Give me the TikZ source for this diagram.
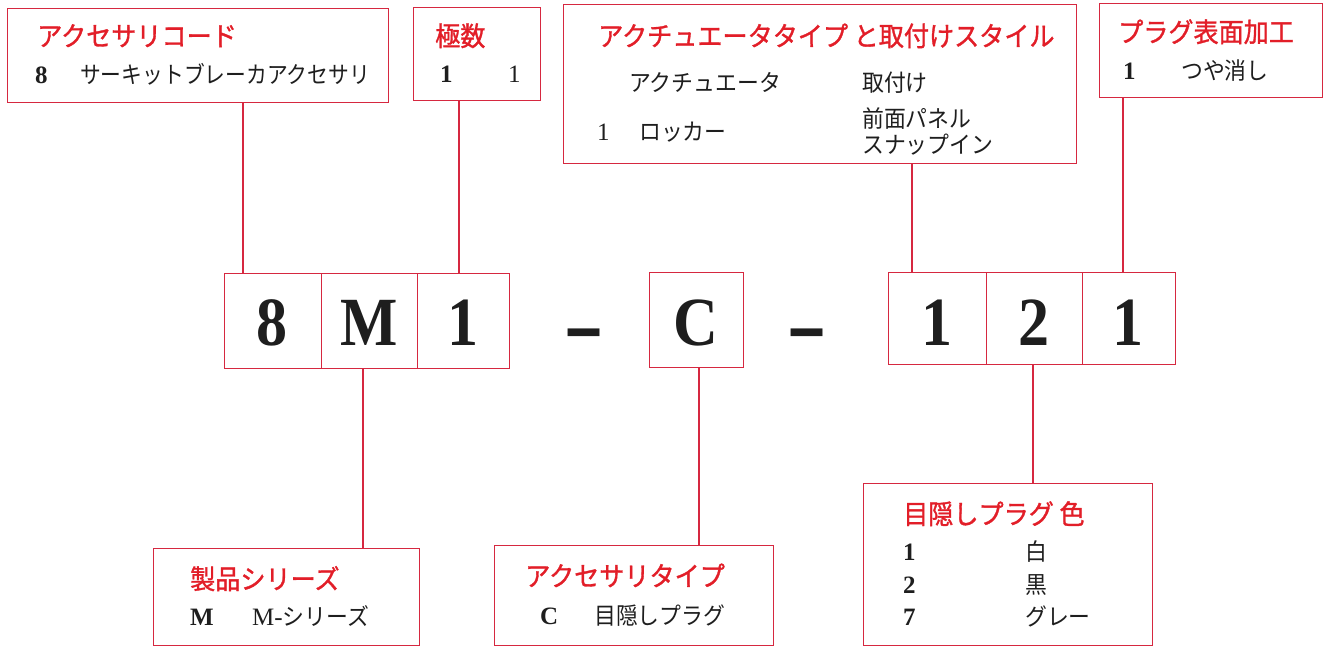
\documentclass[tikz,border=0pt]{standalone}
\usepackage{graphicx}
\usepackage{fontspec}
\setmainfont{Liberation Serif}
\newfontfamily\jp[FakeStretch=0.93]{Noto Sans CJK JP}
\newfontfamily\jpt[FakeStretch=0.93,FakeBold=1.2]{Noto Sans CJK JP}
\definecolor{boxred}{RGB}{214,40,64}
\definecolor{titlered}{RGB}{226,30,40}
\definecolor{ink}{RGB}{30,30,30}
\begin{document}
\begin{tikzpicture}[x=1pt,y=-1pt,
  box/.style={draw=boxred, line width=1.3pt, inner sep=0pt, anchor=north west},
  link/.style={draw=boxred, line width=1.3pt},
  ttl/.style={inner sep=0pt, anchor=base west, text=titlered, font=\fontsize{27}{27}\selectfont\jpt},
  body/.style={inner sep=0pt, anchor=base west, text=ink, font=\fontsize{23.5}{23.5}\selectfont\jp},
  num/.style={inner sep=0pt, anchor=base west, text=ink, font=\fontsize{25}{25}\selectfont\bfseries},
  rnum/.style={inner sep=0pt, anchor=base west, text=ink, font=\fontsize{25}{25}\selectfont},
  code/.style={inner sep=0pt, anchor=base, text=ink, font=\fontsize{69}{69}\selectfont\bfseries},
]
\useasboundingbox (0,0) rectangle (1325,646);

% top boxes
\node[box, minimum width=381pt, minimum height=94pt] (boxA) at (7,8) {};
\node[box, minimum width=127pt, minimum height=93pt] (boxB) at (413,7) {};
\node[box, minimum width=513pt, minimum height=159pt] (boxC) at (563,4) {};
\node[box, minimum width=223pt, minimum height=94pt] (boxD) at (1099,3) {};

% code boxes
\node[box, minimum width=97pt, minimum height=95pt] (c8) at (224,273) {};
\node[box, minimum width=96pt, minimum height=95pt] (cM) at (321,273) {};
\node[box, minimum width=92pt, minimum height=95pt] (c1) at (417,273) {};
\node[box, minimum width=94pt, minimum height=95pt] (cC) at (649,272) {};
\node[box, minimum width=98pt, minimum height=92pt] (r1) at (888,272) {};
\node[box, minimum width=96pt, minimum height=92pt] (r2) at (986,272) {};
\node[box, minimum width=93pt, minimum height=92pt] (r3) at (1082,272) {};

% bottom boxes
\node[box, minimum width=266pt, minimum height=97pt] (boxE) at (153,548) {};
\node[box, minimum width=279pt, minimum height=100pt] (boxF) at (494,545) {};
\node[box, minimum width=289pt, minimum height=162pt] (boxG) at (863,483) {};

% connectors
\coordinate (kA) at (243,273);
\coordinate (kB) at (459,273);
\coordinate (kC) at (912,272);
\coordinate (kD) at (1123,272);
\coordinate (kM) at (363,548);
\coordinate (kF) at (699,545);
\coordinate (kG) at (1033,483);
\draw[link] (kA |- boxA.south) -- (kA);
\draw[link] (kB |- boxB.south) -- (kB);
\draw[link] (kC |- boxC.south) -- (kC);
\draw[link] (kD |- boxD.south) -- (kD);
\draw[link] (kM |- cM.south) -- (kM);
\draw[link] (kF |- cC.south) -- (kF);
\draw[link] (kG |- r2.south) -- (kG);

% code characters
\node[code] (t8) at (272.5,345) {\scalebox{0.9}[1]{8}};
\node[code] (tM) at (369,345) {\scalebox{0.88}[1]{M}};
\node[code] (t1) at (463,345) {\scalebox{0.9}[1]{1}};
\node[code] (dash1) at (584.5,358) {\scalebox{0.9}[1.6]{–}};
\node[code] (tC) at (696,345) {\scalebox{0.9}[1]{C}};
\node[code] (dash2) at (807.5,358) {\scalebox{0.9}[1.6]{–}};
\node[code] (u1) at (937,345) {\scalebox{0.9}[1]{1}};
\node[code] (u2) at (1034,345) {\scalebox{0.9}[1]{2}};
\node[code] (u3) at (1128.5,345) {\scalebox{0.9}[1]{1}};

% box A
\node[ttl] (aT) at (37,46) {アクセサリコード};
\node[num] (aN) at (35,83) {8};
\node[body] (aX) at (80,83) {\scalebox{0.95}[1]{サーキットブレーカアクセサリ}};

% box B
\node[ttl] (bT) at (435,46) {極数};
\node[num] (bN) at (440,82) {1};
\node[rnum] (bX) at (508,82) {1};

% box C
\node[ttl] (cT) at (598,46) {アクチュエータタイプ と取付けスタイル};
\node[body] (cH1) at (629,91) {アクチュエータ};
\node[body] (cH2) at (862,91) {取付け};
\node[rnum] (cN) at (597,140) {1};
\node[body] (cX) at (639,140) {ロッカー};
\node[body] (cY1) at (862,127) {前面パネル};
\node[body] (cY2) at (862,153) {スナップイン};

% box D
\node[ttl] (dT) at (1118,42) {プラグ表面加工};
\node[num] (dN) at (1123,79) {1};
\node[body] (dX) at (1181,79) {つや消し};

% box E
\node[ttl] (eT) at (190,589) {製品シリーズ};
\node[num] (eN) at (190,625) {M};
\node[body] (eX) at (252,625) {{\rmfamily\fontsize{25}{25}\selectfont M-}シリーズ};

% box F
\node[ttl] (fT) at (525,586) {アクセサリタイプ};
\node[num] (fN) at (540,624) {C};
\node[body] (fX) at (594,624) {目隠しプラグ};

% box G
\node[ttl] (gT) at (903,524) {目隠しプラグ 色};
\node[num] (gN1) at (903,560) {1};
\node[body] (gX1) at (1025,560) {白};
\node[num] (gN2) at (903,593) {2};
\node[body] (gX2) at (1025,593) {黒};
\node[num] (gN3) at (903,625) {7};
\node[body] (gX3) at (1025,625) {グレー};
\end{tikzpicture}
\end{document}
